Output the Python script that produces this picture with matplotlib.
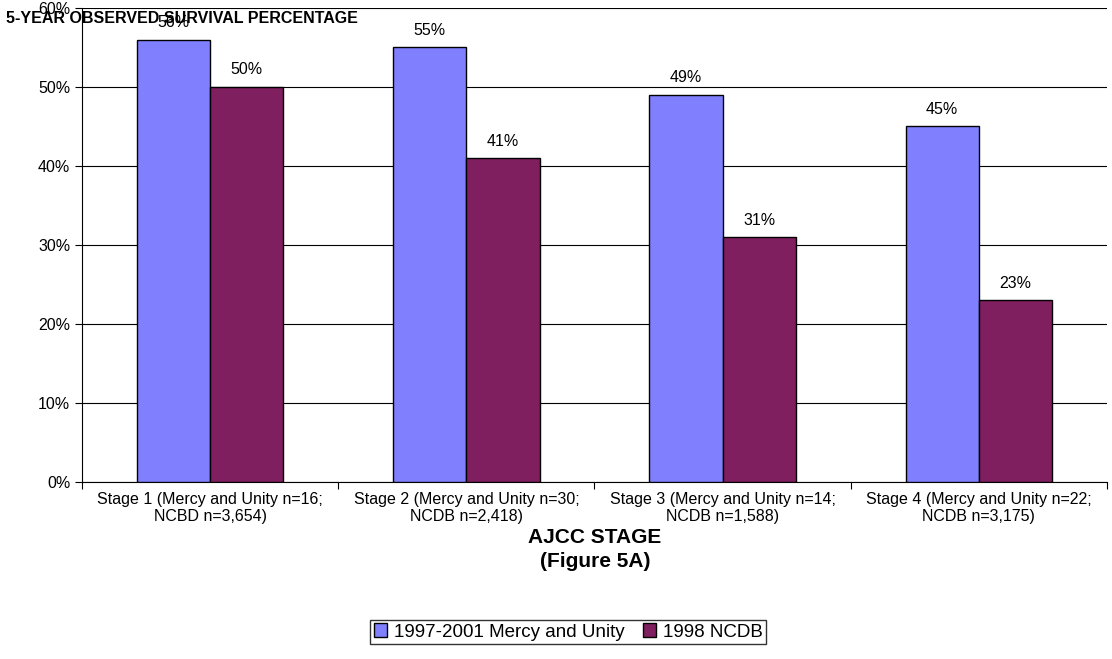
import matplotlib.pyplot as plt
import numpy as np

plt.rcParams['font.family'] = ['Liberation Sans', 'DejaVu Sans']

stages = ["Stage 1 (Mercy and Unity n=16;\nNCBD n=3,654)",
          "Stage 2 (Mercy and Unity n=30;\nNCDB n=2,418)",
          "Stage 3 (Mercy and Unity n=14;\nNCDB n=1,588)",
          "Stage 4 (Mercy and Unity n=22;\nNCDB n=3,175)"]
mercy_unity = [56, 55, 49, 45]
ncdb = [50, 41, 31, 23]
series_names = ["1997-2001 Mercy and Unity", "1998 NCDB"]

fig = plt.figure(figsize=(11.12, 6.59), dpi=100)
ax = fig.add_axes([0.0737, 0.2686, 0.9218, 0.7193])

x = np.arange(len(stages))
w = 0.286
b1 = ax.bar(x - w / 2, mercy_unity, w, color='#8080FF', edgecolor='black', linewidth=1, label=series_names[0], zorder=3)
b2 = ax.bar(x + w / 2, ncdb, w, color='#7F1F5F', edgecolor='black', linewidth=1, label=series_names[1], zorder=3)

for bars, vals in ((b1, mercy_unity), (b2, ncdb)):
    for r, v in zip(bars, vals):
        ax.text(r.get_x() + r.get_width() / 2, v + 1.2, f"{v}%", ha='center', va='bottom', fontsize=11.5)

ax.set_xlim(-0.5, len(stages) - 0.5)
ax.set_ylim(0, 60)
ax.set_yticks(range(0, 61, 10))
ax.set_yticklabels([f"{t}%" for t in range(0, 61, 10)], fontsize=11.5)
ax.set_xticks(np.arange(-0.5, len(stages), 1.0))
ax.set_xticklabels([])
ax.set_xticks(x, minor=True)
ax.set_xticklabels(stages, minor=True, fontsize=11.5)
ax.tick_params(axis='x', which='minor', length=0, pad=7)
ax.tick_params(axis='x', which='major', length=5, direction='out')
ax.tick_params(axis='y', length=5, direction='out')
ax.yaxis.grid(True, color='black', linewidth=0.8, zorder=0)
ax.set_axisbelow(True)
for s in ('top', 'right'):
    ax.spines[s].set_visible(False)

fig.text(0.005, 0.972, "5-YEAR OBSERVED SURVIVAL PERCENTAGE", fontsize=11.5, fontweight='bold', ha='left', va='center')
fig.text(0.535, 0.166, "AJCC STAGE\n(Figure 5A)", fontsize=15, fontweight='bold', ha='center', va='center', linespacing=1.3)

leg = fig.legend(loc='center', bbox_to_anchor=(0.511, 0.041), ncol=2, fontsize=13.5, frameon=True,
                 fancybox=False, edgecolor='black', handlelength=0.7, handleheight=0.7,
                 handletextpad=0.35, columnspacing=1.0, borderpad=0.2)
leg.get_frame().set_linewidth(1)

fig.savefig('out.png', dpi=100)
